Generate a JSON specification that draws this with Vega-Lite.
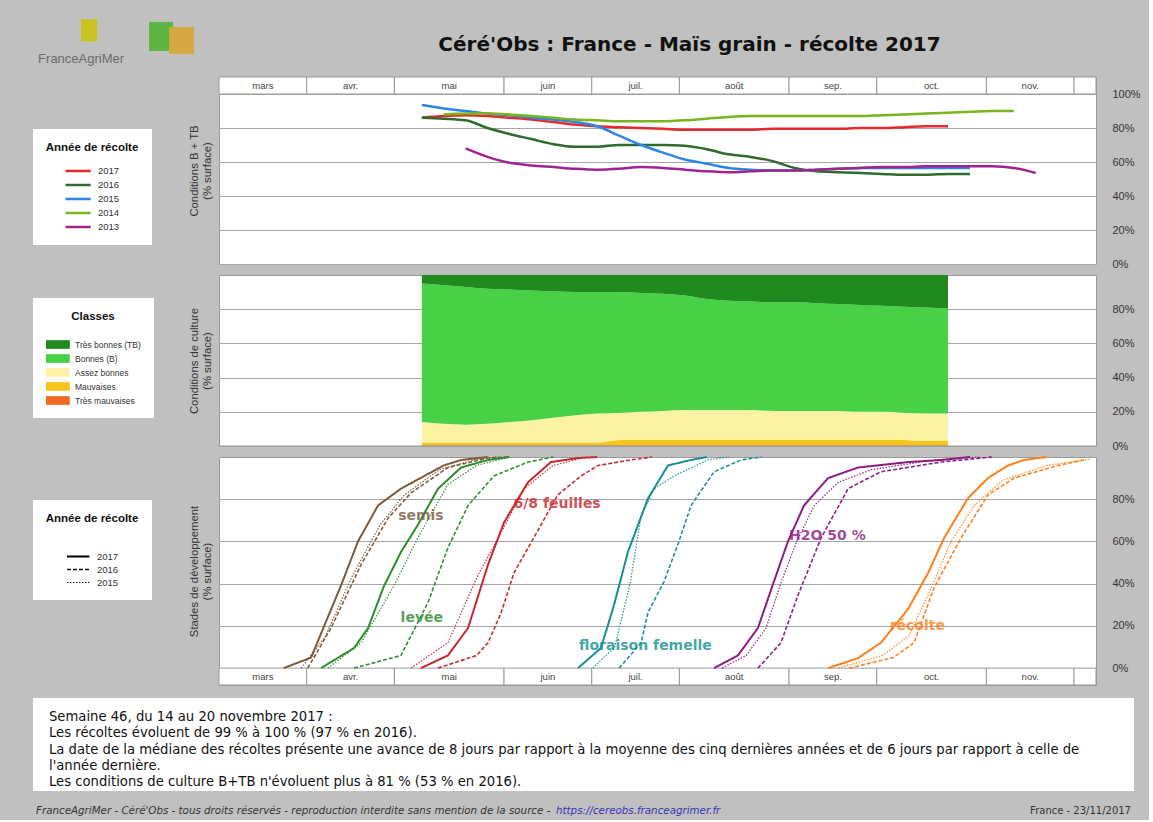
{
  "$schema": "https://vega.github.io/schema/vega-lite/v6.json",
  "background": "#c0c0c0",
  "padding": {"left": 32, "top": 18, "right": 8, "bottom": 4},
  "config": {
    "font": "Liberation Sans",
    "view": {"fill": "white", "stroke": "#9a9a9a", "strokeWidth": 1},
    "axis": {"domain": false, "ticks": false, "labelFontSize": 11, "labelColor": "#333", "titleFontSize": 11.3, "titleFontWeight": "normal", "titleColor": "#333", "gridColor": "#a6a6a6", "gridWidth": 1.2},
    "legend": {"orient": "none", "fillColor": "white", "padding": 13, "titleFontSize": 11.5, "titleFontWeight": "bold", "titleColor": "#111", "titleAnchor": "middle", "titleAlign": "center", "labelFontSize": 9.5, "labelColor": "#333"}
  },
  "datasets": {
    "mois": [
      {"mois": "mars", "debut": 8.75, "fin": 12.75},
      {"mois": "avr.", "debut": 12.75, "fin": 16.75},
      {"mois": "mai", "debut": 16.75, "fin": 21.75},
      {"mois": "juin", "debut": 21.75, "fin": 25.75},
      {"mois": "juil.", "debut": 25.75, "fin": 29.75},
      {"mois": "août", "debut": 29.75, "fin": 34.75},
      {"mois": "sep.", "debut": 34.75, "fin": 38.75},
      {"mois": "oct.", "debut": 38.75, "fin": 43.75},
      {"mois": "nov.", "debut": 43.75, "fin": 47.75},
      {"mois": "", "debut": 47.75, "fin": 48.75}
    ],
    "bt": [
      {"semaine": 18, "2017": 86, "2016": 86, "2015": 93.5, "2014": null, "2013": null},
      {"semaine": 19, "2017": 87, "2016": 85.5, "2015": 91.5, "2014": 88, "2013": null},
      {"semaine": 20, "2017": 87.5, "2016": 84.5, "2015": 90, "2014": 88.5, "2013": 68},
      {"semaine": 21, "2017": 87, "2016": 80, "2015": 88.5, "2014": 88.5, "2013": 63},
      {"semaine": 22, "2017": 86, "2016": 76.5, "2015": 87.5, "2014": 88, "2013": 59.5},
      {"semaine": 23, "2017": 85, "2016": 73.5, "2015": 86, "2014": 87, "2013": 58},
      {"semaine": 24, "2017": 83.5, "2016": 70.5, "2015": 85, "2014": 86, "2013": 57},
      {"semaine": 25, "2017": 82, "2016": 69, "2015": 83.5, "2014": 85, "2013": 56},
      {"semaine": 26, "2017": 81, "2016": 69, "2015": 81, "2014": 84.5, "2013": 55.5},
      {"semaine": 27, "2017": 80.5, "2016": 70, "2015": 75.5, "2014": 84, "2013": 56},
      {"semaine": 28, "2017": 80, "2016": 70, "2015": 70, "2014": 84, "2013": 57},
      {"semaine": 29, "2017": 79.5, "2016": 70, "2015": 65.5, "2014": 84, "2013": 56.5},
      {"semaine": 30, "2017": 79, "2016": 69.5, "2015": 61.5, "2014": 84.5, "2013": 55.5},
      {"semaine": 31, "2017": 79, "2016": 67.5, "2015": 59, "2014": 85.5, "2013": 54.5},
      {"semaine": 32, "2017": 79, "2016": 64.5, "2015": 56.5, "2014": 86.5, "2013": 54},
      {"semaine": 33, "2017": 79, "2016": 63, "2015": 55.5, "2014": 87, "2013": 54.5},
      {"semaine": 34, "2017": 79.5, "2016": 60.5, "2015": 55, "2014": 87, "2013": 55},
      {"semaine": 35, "2017": 79.5, "2016": 56.5, "2015": 55, "2014": 87, "2013": 55},
      {"semaine": 36, "2017": 79.5, "2016": 54.5, "2015": 55.5, "2014": 87, "2013": 55.5},
      {"semaine": 37, "2017": 79.5, "2016": 54, "2015": 56, "2014": 87, "2013": 56},
      {"semaine": 38, "2017": 80, "2016": 53.5, "2015": 56.5, "2014": 87, "2013": 56.5},
      {"semaine": 39, "2017": 80, "2016": 53, "2015": 56.5, "2014": 87.5, "2013": 57},
      {"semaine": 40, "2017": 80.5, "2016": 52.5, "2015": 56.5, "2014": 88, "2013": 57},
      {"semaine": 41, "2017": 81, "2016": 52.5, "2015": 56.5, "2014": 88.5, "2013": 57.5},
      {"semaine": 42, "2017": 81, "2016": 53, "2015": 56.5, "2014": 89, "2013": 57.5},
      {"semaine": 43, "2017": null, "2016": 53, "2015": 56.5, "2014": 89.5, "2013": 57.5},
      {"semaine": 44, "2017": null, "2016": null, "2015": null, "2014": 90, "2013": 57.5},
      {"semaine": 45, "2017": null, "2016": null, "2015": null, "2014": 90, "2013": 56.5},
      {"semaine": 46, "2017": null, "2016": null, "2015": null, "2014": null, "2013": 53.5}
    ],
    "classes": [
      {"semaine": 18, "a_TM": 0.5, "b_M": 1.5, "c_AB": 12, "d_B": 81, "e_TB": 5},
      {"semaine": 19, "a_TM": 0.5, "b_M": 1.5, "c_AB": 11, "d_B": 81, "e_TB": 6},
      {"semaine": 20, "a_TM": 0.5, "b_M": 1.5, "c_AB": 10.5, "d_B": 80.5, "e_TB": 7},
      {"semaine": 21, "a_TM": 0.5, "b_M": 1.5, "c_AB": 11, "d_B": 79, "e_TB": 8},
      {"semaine": 22, "a_TM": 0.5, "b_M": 1.5, "c_AB": 12, "d_B": 77.5, "e_TB": 8.5},
      {"semaine": 23, "a_TM": 0.5, "b_M": 1.5, "c_AB": 13, "d_B": 76, "e_TB": 9},
      {"semaine": 24, "a_TM": 0.5, "b_M": 1.5, "c_AB": 14.5, "d_B": 74, "e_TB": 9.5},
      {"semaine": 25, "a_TM": 0.5, "b_M": 1.5, "c_AB": 16, "d_B": 72, "e_TB": 10},
      {"semaine": 26, "a_TM": 0.5, "b_M": 1.5, "c_AB": 17, "d_B": 71, "e_TB": 10},
      {"semaine": 27, "a_TM": 0.5, "b_M": 3, "c_AB": 16, "d_B": 70.5, "e_TB": 10},
      {"semaine": 28, "a_TM": 0.5, "b_M": 3, "c_AB": 16.5, "d_B": 69.5, "e_TB": 10.5},
      {"semaine": 29, "a_TM": 0.5, "b_M": 3, "c_AB": 17, "d_B": 68.5, "e_TB": 11},
      {"semaine": 30, "a_TM": 0.5, "b_M": 3, "c_AB": 17.5, "d_B": 67, "e_TB": 12},
      {"semaine": 31, "a_TM": 0.5, "b_M": 3, "c_AB": 17.5, "d_B": 65, "e_TB": 14},
      {"semaine": 32, "a_TM": 0.5, "b_M": 3, "c_AB": 17.5, "d_B": 64, "e_TB": 15},
      {"semaine": 33, "a_TM": 0.5, "b_M": 3, "c_AB": 17.5, "d_B": 63.5, "e_TB": 15.5},
      {"semaine": 34, "a_TM": 0.5, "b_M": 3, "c_AB": 17, "d_B": 63.5, "e_TB": 16},
      {"semaine": 35, "a_TM": 0.5, "b_M": 3, "c_AB": 17, "d_B": 63.5, "e_TB": 16},
      {"semaine": 36, "a_TM": 0.5, "b_M": 3, "c_AB": 17, "d_B": 63, "e_TB": 16.5},
      {"semaine": 37, "a_TM": 0.5, "b_M": 3, "c_AB": 17, "d_B": 62.5, "e_TB": 17},
      {"semaine": 38, "a_TM": 0.5, "b_M": 3, "c_AB": 16.5, "d_B": 62.5, "e_TB": 17.5},
      {"semaine": 39, "a_TM": 0.5, "b_M": 3, "c_AB": 16.5, "d_B": 62, "e_TB": 18},
      {"semaine": 40, "a_TM": 0.5, "b_M": 3, "c_AB": 16, "d_B": 62, "e_TB": 18.5},
      {"semaine": 41, "a_TM": 0.5, "b_M": 2.5, "c_AB": 16, "d_B": 62, "e_TB": 19},
      {"semaine": 42, "a_TM": 0.5, "b_M": 2.5, "c_AB": 16, "d_B": 61.5, "e_TB": 19.5}
    ],
    "stades": [
      {"stade": "semis", "annee": "2017", "semaine": 11.7, "pct": 0},
      {"stade": "semis", "annee": "2017", "semaine": 12.95, "pct": 5},
      {"stade": "semis", "annee": "2017", "semaine": 14.31, "pct": 39},
      {"stade": "semis", "annee": "2017", "semaine": 15.09, "pct": 60},
      {"stade": "semis", "annee": "2017", "semaine": 16.0, "pct": 77},
      {"stade": "semis", "annee": "2017", "semaine": 17.05, "pct": 85},
      {"stade": "semis", "annee": "2017", "semaine": 19.0, "pct": 96},
      {"stade": "semis", "annee": "2017", "semaine": 19.8, "pct": 98.6},
      {"stade": "semis", "annee": "2017", "semaine": 21.0, "pct": 100},
      {"stade": "semis", "annee": "2016", "semaine": 12.8, "pct": 0},
      {"stade": "semis", "annee": "2016", "semaine": 13.86, "pct": 19},
      {"stade": "semis", "annee": "2016", "semaine": 15.23, "pct": 49},
      {"stade": "semis", "annee": "2016", "semaine": 16.46, "pct": 71},
      {"stade": "semis", "annee": "2016", "semaine": 17.51, "pct": 83},
      {"stade": "semis", "annee": "2016", "semaine": 19.19, "pct": 95},
      {"stade": "semis", "annee": "2016", "semaine": 21.0, "pct": 99.5},
      {"stade": "semis", "annee": "2016", "semaine": 22.0, "pct": 100},
      {"stade": "semis", "annee": "2015", "semaine": 12.5, "pct": 0},
      {"stade": "semis", "annee": "2015", "semaine": 13.6, "pct": 15},
      {"stade": "semis", "annee": "2015", "semaine": 14.8, "pct": 43},
      {"stade": "semis", "annee": "2015", "semaine": 16.1, "pct": 68},
      {"stade": "semis", "annee": "2015", "semaine": 17.2, "pct": 82},
      {"stade": "semis", "annee": "2015", "semaine": 18.8, "pct": 94},
      {"stade": "semis", "annee": "2015", "semaine": 20.5, "pct": 99},
      {"stade": "semis", "annee": "2015", "semaine": 21.5, "pct": 100},
      {"stade": "levée", "annee": "2017", "semaine": 13.4, "pct": 0},
      {"stade": "levée", "annee": "2017", "semaine": 14.91, "pct": 9.5},
      {"stade": "levée", "annee": "2017", "semaine": 15.55, "pct": 19},
      {"stade": "levée", "annee": "2017", "semaine": 16.28, "pct": 39},
      {"stade": "levée", "annee": "2017", "semaine": 17.05, "pct": 55},
      {"stade": "levée", "annee": "2017", "semaine": 17.83, "pct": 68},
      {"stade": "levée", "annee": "2017", "semaine": 18.74, "pct": 85},
      {"stade": "levée", "annee": "2017", "semaine": 19.79, "pct": 95},
      {"stade": "levée", "annee": "2017", "semaine": 21.02, "pct": 98.6},
      {"stade": "levée", "annee": "2017", "semaine": 22.0, "pct": 100},
      {"stade": "levée", "annee": "2016", "semaine": 14.91, "pct": 0},
      {"stade": "levée", "annee": "2016", "semaine": 17.05, "pct": 6},
      {"stade": "levée", "annee": "2016", "semaine": 18.28, "pct": 31},
      {"stade": "levée", "annee": "2016", "semaine": 19.19, "pct": 57},
      {"stade": "levée", "annee": "2016", "semaine": 20.11, "pct": 77},
      {"stade": "levée", "annee": "2016", "semaine": 21.29, "pct": 91},
      {"stade": "levée", "annee": "2016", "semaine": 22.84, "pct": 97.6},
      {"stade": "levée", "annee": "2016", "semaine": 24.0, "pct": 100},
      {"stade": "levée", "annee": "2015", "semaine": 13.72, "pct": 0},
      {"stade": "levée", "annee": "2015", "semaine": 15.23, "pct": 12},
      {"stade": "levée", "annee": "2015", "semaine": 16.73, "pct": 39},
      {"stade": "levée", "annee": "2015", "semaine": 17.83, "pct": 62},
      {"stade": "levée", "annee": "2015", "semaine": 19.19, "pct": 87},
      {"stade": "levée", "annee": "2015", "semaine": 20.5, "pct": 96},
      {"stade": "levée", "annee": "2015", "semaine": 22.0, "pct": 100},
      {"stade": "6/8 feuilles", "annee": "2017", "semaine": 17.96, "pct": 0},
      {"stade": "6/8 feuilles", "annee": "2017", "semaine": 19.19, "pct": 6},
      {"stade": "6/8 feuilles", "annee": "2017", "semaine": 20.11, "pct": 19},
      {"stade": "6/8 feuilles", "annee": "2017", "semaine": 21.02, "pct": 49},
      {"stade": "6/8 feuilles", "annee": "2017", "semaine": 21.75, "pct": 69},
      {"stade": "6/8 feuilles", "annee": "2017", "semaine": 22.84, "pct": 88},
      {"stade": "6/8 feuilles", "annee": "2017", "semaine": 23.89, "pct": 97.6},
      {"stade": "6/8 feuilles", "annee": "2017", "semaine": 25.12, "pct": 99.5},
      {"stade": "6/8 feuilles", "annee": "2017", "semaine": 26.0, "pct": 100},
      {"stade": "6/8 feuilles", "annee": "2016", "semaine": 18.74, "pct": 0},
      {"stade": "6/8 feuilles", "annee": "2016", "semaine": 20.5, "pct": 6},
      {"stade": "6/8 feuilles", "annee": "2016", "semaine": 21.02, "pct": 12},
      {"stade": "6/8 feuilles", "annee": "2016", "semaine": 21.61, "pct": 26},
      {"stade": "6/8 feuilles", "annee": "2016", "semaine": 22.2, "pct": 45},
      {"stade": "6/8 feuilles", "annee": "2016", "semaine": 23.12, "pct": 62},
      {"stade": "6/8 feuilles", "annee": "2016", "semaine": 24.2, "pct": 82},
      {"stade": "6/8 feuilles", "annee": "2016", "semaine": 25.26, "pct": 91},
      {"stade": "6/8 feuilles", "annee": "2016", "semaine": 26.04, "pct": 96},
      {"stade": "6/8 feuilles", "annee": "2016", "semaine": 27.54, "pct": 98.6},
      {"stade": "6/8 feuilles", "annee": "2016", "semaine": 28.5, "pct": 100},
      {"stade": "6/8 feuilles", "annee": "2015", "semaine": 17.51, "pct": 0},
      {"stade": "6/8 feuilles", "annee": "2015", "semaine": 19.19, "pct": 12},
      {"stade": "6/8 feuilles", "annee": "2015", "semaine": 20.56, "pct": 44},
      {"stade": "6/8 feuilles", "annee": "2015", "semaine": 21.61, "pct": 64},
      {"stade": "6/8 feuilles", "annee": "2015", "semaine": 22.66, "pct": 85},
      {"stade": "6/8 feuilles", "annee": "2015", "semaine": 24.0, "pct": 96},
      {"stade": "6/8 feuilles", "annee": "2015", "semaine": 25.5, "pct": 100},
      {"stade": "floraison femelle", "annee": "2017", "semaine": 25.12, "pct": 0},
      {"stade": "floraison femelle", "annee": "2017", "semaine": 26.17, "pct": 9.5},
      {"stade": "floraison femelle", "annee": "2017", "semaine": 26.77, "pct": 30},
      {"stade": "floraison femelle", "annee": "2017", "semaine": 27.4, "pct": 55},
      {"stade": "floraison femelle", "annee": "2017", "semaine": 28.32, "pct": 80.5},
      {"stade": "floraison femelle", "annee": "2017", "semaine": 29.23, "pct": 96},
      {"stade": "floraison femelle", "annee": "2017", "semaine": 30.28, "pct": 98.6},
      {"stade": "floraison femelle", "annee": "2017", "semaine": 31.0, "pct": 100},
      {"stade": "floraison femelle", "annee": "2016", "semaine": 27.0, "pct": 0},
      {"stade": "floraison femelle", "annee": "2016", "semaine": 28.0, "pct": 12},
      {"stade": "floraison femelle", "annee": "2016", "semaine": 28.32, "pct": 26.5},
      {"stade": "floraison femelle", "annee": "2016", "semaine": 29.05, "pct": 41},
      {"stade": "floraison femelle", "annee": "2016", "semaine": 29.73, "pct": 60},
      {"stade": "floraison femelle", "annee": "2016", "semaine": 30.28, "pct": 77},
      {"stade": "floraison femelle", "annee": "2016", "semaine": 31.33, "pct": 93},
      {"stade": "floraison femelle", "annee": "2016", "semaine": 32.56, "pct": 98.6},
      {"stade": "floraison femelle", "annee": "2016", "semaine": 33.5, "pct": 100},
      {"stade": "floraison femelle", "annee": "2015", "semaine": 25.8, "pct": 0},
      {"stade": "floraison femelle", "annee": "2015", "semaine": 26.8, "pct": 10},
      {"stade": "floraison femelle", "annee": "2015", "semaine": 27.5, "pct": 40},
      {"stade": "floraison femelle", "annee": "2015", "semaine": 28.0, "pct": 72},
      {"stade": "floraison femelle", "annee": "2015", "semaine": 28.6, "pct": 85},
      {"stade": "floraison femelle", "annee": "2015", "semaine": 29.5, "pct": 91},
      {"stade": "floraison femelle", "annee": "2015", "semaine": 31.05, "pct": 98.6},
      {"stade": "floraison femelle", "annee": "2015", "semaine": 32.0, "pct": 100},
      {"stade": "H2O 50 %", "annee": "2017", "semaine": 31.33, "pct": 0},
      {"stade": "H2O 50 %", "annee": "2017", "semaine": 32.42, "pct": 6},
      {"stade": "H2O 50 %", "annee": "2017", "semaine": 33.33, "pct": 19},
      {"stade": "H2O 50 %", "annee": "2017", "semaine": 34.06, "pct": 41},
      {"stade": "H2O 50 %", "annee": "2017", "semaine": 34.7, "pct": 60},
      {"stade": "H2O 50 %", "annee": "2017", "semaine": 35.43, "pct": 77},
      {"stade": "H2O 50 %", "annee": "2017", "semaine": 36.53, "pct": 90},
      {"stade": "H2O 50 %", "annee": "2017", "semaine": 37.89, "pct": 95},
      {"stade": "H2O 50 %", "annee": "2017", "semaine": 40.18, "pct": 97.6},
      {"stade": "H2O 50 %", "annee": "2017", "semaine": 41.68, "pct": 98.6},
      {"stade": "H2O 50 %", "annee": "2017", "semaine": 43.0, "pct": 100},
      {"stade": "H2O 50 %", "annee": "2016", "semaine": 33.33, "pct": 0},
      {"stade": "H2O 50 %", "annee": "2016", "semaine": 34.38, "pct": 12},
      {"stade": "H2O 50 %", "annee": "2016", "semaine": 35.16, "pct": 34.6},
      {"stade": "H2O 50 %", "annee": "2016", "semaine": 36.21, "pct": 61.6},
      {"stade": "H2O 50 %", "annee": "2016", "semaine": 37.44, "pct": 85},
      {"stade": "H2O 50 %", "annee": "2016", "semaine": 38.94, "pct": 93},
      {"stade": "H2O 50 %", "annee": "2016", "semaine": 41.68, "pct": 97.6},
      {"stade": "H2O 50 %", "annee": "2016", "semaine": 44.0, "pct": 100},
      {"stade": "H2O 50 %", "annee": "2015", "semaine": 31.7, "pct": 0},
      {"stade": "H2O 50 %", "annee": "2015", "semaine": 32.8, "pct": 6},
      {"stade": "H2O 50 %", "annee": "2015", "semaine": 33.7, "pct": 19},
      {"stade": "H2O 50 %", "annee": "2015", "semaine": 34.4, "pct": 41},
      {"stade": "H2O 50 %", "annee": "2015", "semaine": 35.1, "pct": 60},
      {"stade": "H2O 50 %", "annee": "2015", "semaine": 35.9, "pct": 77},
      {"stade": "H2O 50 %", "annee": "2015", "semaine": 37.0, "pct": 88},
      {"stade": "H2O 50 %", "annee": "2015", "semaine": 38.5, "pct": 94},
      {"stade": "H2O 50 %", "annee": "2015", "semaine": 41.0, "pct": 98},
      {"stade": "H2O 50 %", "annee": "2015", "semaine": 43.5, "pct": 100},
      {"stade": "récolte", "annee": "2017", "semaine": 36.53, "pct": 0},
      {"stade": "récolte", "annee": "2017", "semaine": 37.89, "pct": 4.7},
      {"stade": "récolte", "annee": "2017", "semaine": 38.94, "pct": 12},
      {"stade": "récolte", "annee": "2017", "semaine": 40.18, "pct": 28},
      {"stade": "récolte", "annee": "2017", "semaine": 41.09, "pct": 45},
      {"stade": "récolte", "annee": "2017", "semaine": 41.82, "pct": 61.6},
      {"stade": "récolte", "annee": "2017", "semaine": 42.91, "pct": 80.5},
      {"stade": "récolte", "annee": "2017", "semaine": 43.82, "pct": 90},
      {"stade": "récolte", "annee": "2017", "semaine": 44.74, "pct": 96},
      {"stade": "récolte", "annee": "2017", "semaine": 45.47, "pct": 98.6},
      {"stade": "récolte", "annee": "2017", "semaine": 46.5, "pct": 100},
      {"stade": "récolte", "annee": "2016", "semaine": 37.5, "pct": 0},
      {"stade": "récolte", "annee": "2016", "semaine": 39.5, "pct": 5},
      {"stade": "récolte", "annee": "2016", "semaine": 40.45, "pct": 12},
      {"stade": "récolte", "annee": "2016", "semaine": 41.36, "pct": 38},
      {"stade": "récolte", "annee": "2016", "semaine": 42.59, "pct": 61.6},
      {"stade": "récolte", "annee": "2016", "semaine": 43.82, "pct": 82},
      {"stade": "récolte", "annee": "2016", "semaine": 45.01, "pct": 90},
      {"stade": "récolte", "annee": "2016", "semaine": 47.02, "pct": 96},
      {"stade": "récolte", "annee": "2016", "semaine": 48.2, "pct": 98.6},
      {"stade": "récolte", "annee": "2015", "semaine": 37.0, "pct": 0},
      {"stade": "récolte", "annee": "2015", "semaine": 39.0, "pct": 6},
      {"stade": "récolte", "annee": "2015", "semaine": 40.2, "pct": 15},
      {"stade": "récolte", "annee": "2015", "semaine": 41.09, "pct": 34.6},
      {"stade": "récolte", "annee": "2015", "semaine": 42.14, "pct": 60},
      {"stade": "récolte", "annee": "2015", "semaine": 43.19, "pct": 77},
      {"stade": "récolte", "annee": "2015", "semaine": 44.5, "pct": 89},
      {"stade": "récolte", "annee": "2015", "semaine": 46.5, "pct": 96},
      {"stade": "récolte", "annee": "2015", "semaine": 48.5, "pct": 99}
    ],
    "etiquettes": [
      {"stade": "semis", "semaine": 17.96, "pct": 72},
      {"stade": "levée", "semaine": 18.0, "pct": 23.7},
      {"stade": "6/8 feuilles", "semaine": 24.17, "pct": 77.7},
      {"stade": "floraison femelle", "semaine": 28.2, "pct": 10.4},
      {"stade": "H2O 50 %", "semaine": 36.5, "pct": 62.5},
      {"stade": "récolte", "semaine": 40.6, "pct": 20}
    ],
    "texte": [
      {"ligne": 1, "texte": "Semaine 46, du 14 au 20 novembre 2017 :"},
      {"ligne": 2, "texte": "Les récoltes évoluent de 99 % à 100 % (97 % en 2016)."},
      {"ligne": 3, "texte": "La date de la médiane des récoltes présente une avance de 8 jours par rapport à la moyenne des cinq dernières années et de 6 jours par rapport à celle de"},
      {"ligne": 4, "texte": "l'année dernière."},
      {"ligne": 5, "texte": "Les conditions de culture B+TB n'évoluent plus à 81 % (53 % en 2016)."}
    ]
  },
  "spacing": 12,
  "resolve": {"scale": {"x": "independent", "y": "independent"}},
  "vconcat": [
    {
      "bounds": "flush",
      "spacing": 11,
      "resolve": {"scale": {"x": "independent", "y": "independent", "color": "independent", "fill": "independent", "strokeDash": "independent", "strokeWidth": "independent", "opacity": "independent"}},
      "vconcat": [
        {
          "width": 877,
          "height": 187,
          "title": {"text": "Céré'Obs : France - Maïs grain - récolte 2017", "font": "DejaVu Sans", "fontSize": 20, "fontWeight": "bold", "color": "#111", "anchor": "middle", "frame": "group", "dx": 32, "offset": -36},
          "resolve": {"axis": {"y": "independent"}},
          "layer": [
            {
              "data": {"name": "mois"},
              "mark": {"type": "rect", "fill": "white", "stroke": "#9a9a9a", "strokeWidth": 1},
              "encoding": {
                "x": {"field": "debut", "type": "quantitative", "scale": {"domain": [8.75, 48.75], "nice": false, "zero": false}, "axis": null},
                "x2": {"field": "fin"},
                "y": {"datum": 100, "type": "quantitative", "scale": {"domain": [0, 110], "nice": false, "zero": false}, "axis": {"orient": "left", "title": ["Conditions B + TB", "(% surface)"], "labels": false, "grid": false, "titlePadding": 6}},
                "y2": {"datum": 110}
              }
            },
            {
              "data": {"name": "mois"},
              "transform": [{"calculate": "(datum.debut + datum.fin) / 2", "as": "milieu"}],
              "mark": {"type": "text", "fontSize": 9.5, "color": "#444", "baseline": "middle"},
              "encoding": {
                "x": {"field": "milieu", "type": "quantitative", "axis": null},
                "y": {"datum": 105, "type": "quantitative", "axis": null},
                "text": {"field": "mois"}
              }
            },
            {
              "data": {"name": "bt"},
              "transform": [{"fold": ["2017", "2016", "2015", "2014", "2013"], "as": ["annee", "pct"]}],
              "mark": {"type": "line", "strokeWidth": 2.5, "interpolate": "monotone"},
              "encoding": {
                "x": {"field": "semaine", "type": "quantitative", "axis": null},
                "y": {"field": "pct", "type": "quantitative", "axis": {"orient": "right", "values": [0, 20, 40, 60, 80, 100], "labelExpr": "datum.value + '%'", "grid": true, "title": null, "labelPadding": 16}},
                "color": {"field": "annee", "type": "nominal", "scale": {"domain": ["2017", "2016", "2015", "2014", "2013"], "range": ["#e8282c", "#2f6a2f", "#2c86e6", "#7ab51d", "#a1248e"]},
                  "legend": {"title": "Année de récolte", "orient": "none", "legendX": -186, "legendY": 52, "symbolType": "M-1,0H2.6", "symbolSize": 196, "symbolStrokeWidth": 2.5, "labelOffset": 17, "titlePadding": 9, "rowPadding": 0}}
              }
            },
            {
              "data": {"values": [{}]},
              "mark": {"type": "text", "fontSize": 13, "color": "#6a6a6a"},
              "encoding": {
                "x": {"datum": 2.46, "type": "quantitative", "axis": null},
                "y": {"datum": 120.6, "type": "quantitative", "axis": null},
                "text": {"value": "FranceAgriMer"}
              }
            },
            {
              "data": {"values": [{}]},
              "mark": {"type": "rect", "color": "#c9c21e"},
              "encoding": {
                "x": {"datum": 2.46, "type": "quantitative", "axis": null},
                "x2": {"datum": 3.19},
                "y": {"datum": 131, "type": "quantitative", "axis": null},
                "y2": {"datum": 144}
              }
            },
            {
              "data": {"values": [{}]},
              "mark": {"type": "rect", "color": "#5db544"},
              "encoding": {
                "x": {"datum": 5.56, "type": "quantitative", "axis": null},
                "x2": {"datum": 6.65},
                "y": {"datum": 125.3, "type": "quantitative", "axis": null},
                "y2": {"datum": 142.4}
              }
            },
            {
              "data": {"values": [{}]},
              "mark": {"type": "rect", "color": "#d5a840"},
              "encoding": {
                "x": {"datum": 6.47, "type": "quantitative", "axis": null},
                "x2": {"datum": 7.61},
                "y": {"datum": 123.5, "type": "quantitative", "axis": null},
                "y2": {"datum": 139.4}
              }
            }
          ]
        },
        {
          "width": 877,
          "height": 171,
          "resolve": {"axis": {"y": "independent"}},
          "layer": [
            {
              "data": {"name": "classes"},
              "transform": [{"fold": ["a_TM", "b_M", "c_AB", "d_B", "e_TB"], "as": ["classe", "pct"]}],
              "mark": {"type": "area", "interpolate": "monotone"},
              "encoding": {
                "x": {"field": "semaine", "type": "quantitative", "scale": {"domain": [8.75, 48.75], "nice": false, "zero": false}, "axis": null},
                "y": {"field": "pct", "type": "quantitative", "stack": "zero", "scale": {"domain": [0, 100], "nice": false}, "axis": {"orient": "right", "values": [0, 20, 40, 60, 80], "labelExpr": "datum.value + '%'", "grid": true, "title": null, "labelPadding": 16}},
                "fill": {"field": "classe", "type": "nominal", "scale": {"domain": ["e_TB", "d_B", "c_AB", "b_M", "a_TM"], "range": ["#1f8b1f", "#47d147", "#fbf3a2", "#f7c51a", "#f26a21"]},
                  "legend": {"title": "Classes", "orient": "none", "legendX": -186, "legendY": 23, "symbolType": "M-1,-0.62H2.4V0.62H-1Z", "symbolSize": 196, "symbolStrokeWidth": 0, "labelFontSize": 8.5, "labelExpr": "{'e_TB':'Très bonnes (TB)','d_B':'Bonnes (B)','c_AB':'Assez bonnes','b_M':'Mauvaises','a_TM':'Très mauvaises'}[datum.value]", "labelOffset": 15, "titlePadding": 15, "rowPadding": 2}},
                "order": {"field": "classe", "type": "ordinal", "sort": "ascending"}
              }
            },
            {
              "data": {"values": [{}]},
              "mark": {"type": "rule", "color": "#9a9a9a", "strokeWidth": 1},
              "encoding": {
                "y": {"datum": 0, "type": "quantitative", "axis": {"orient": "left", "title": ["Conditions de culture", "(% surface)"], "labels": false, "grid": false, "titlePadding": 6}}
              }
            }
          ]
        },
        {
          "width": 877,
          "height": 228,
          "resolve": {"axis": {"y": "independent"}},
          "layer": [
            {
              "data": {"name": "mois"},
              "mark": {"type": "rect", "fill": "white", "stroke": "#9a9a9a", "strokeWidth": 1},
              "encoding": {
                "x": {"field": "debut", "type": "quantitative", "scale": {"domain": [8.75, 48.75], "nice": false, "zero": false}, "axis": null},
                "x2": {"field": "fin"},
                "y": {"datum": -8, "type": "quantitative", "scale": {"domain": [-8, 100], "nice": false, "zero": false}, "axis": {"orient": "left", "title": ["Stades de développement", "(% surface)"], "labels": false, "grid": false, "titlePadding": 6}},
                "y2": {"datum": 0}
              }
            },
            {
              "data": {"name": "mois"},
              "transform": [{"calculate": "(datum.debut + datum.fin) / 2", "as": "milieu"}],
              "mark": {"type": "text", "fontSize": 9.5, "color": "#444", "baseline": "middle"},
              "encoding": {
                "x": {"field": "milieu", "type": "quantitative", "axis": null},
                "y": {"datum": -4, "type": "quantitative", "axis": null},
                "text": {"field": "mois"}
              }
            },
            {
              "data": {"name": "stades"},
              "mark": {"type": "line", "interpolate": "linear"},
              "encoding": {
                "x": {"field": "semaine", "type": "quantitative", "axis": null},
                "y": {"field": "pct", "type": "quantitative", "axis": {"orient": "right", "values": [0, 20, 40, 60, 80], "labelExpr": "datum.value + '%'", "grid": true, "title": null, "labelPadding": 16}},
                "color": {"field": "stade", "type": "nominal", "scale": {"domain": ["semis", "levée", "6/8 feuilles", "floraison femelle", "H2O 50 %", "récolte"], "range": ["#7d5a3c", "#2e8b2e", "#c8282d", "#17908f", "#8e1b80", "#ff7f1a"]}, "legend": null},
                "strokeDash": {"field": "annee", "type": "nominal", "scale": {"domain": ["2017", "2016", "2015"], "range": [[1, 0], [4, 2], [1.5, 1.5]]},
                  "legend": {"title": "Année de récolte", "orient": "none", "legendX": -186, "legendY": 43, "symbolType": "M-1,0H2.2", "symbolStrokeColor": "black", "symbolStrokeWidth": 1.2, "symbolSize": 196, "titlePadding": 24, "rowPadding": 0, "labelOffset": 15,
                    "encode": {"symbols": {"update": {"opacity": {"signal": "datum.value === '2015' ? 0.45 : 1"}}}}}},
                "strokeWidth": {"field": "annee", "type": "ordinal", "scale": {"domain": ["2017", "2016", "2015"], "range": [2, 1.2, 1]}, "legend": null},
                "opacity": {"field": "annee", "type": "ordinal", "scale": {"domain": ["2017", "2016", "2015"], "range": [1, 0.95, 0.6]}, "legend": null}
              }
            },
            {
              "data": {"name": "etiquettes"},
              "mark": {"type": "text", "font": "DejaVu Sans", "fontSize": 14, "fontWeight": "bold", "opacity": 0.8, "baseline": "middle"},
              "encoding": {
                "x": {"field": "semaine", "type": "quantitative", "axis": null},
                "y": {"field": "pct", "type": "quantitative", "axis": null},
                "text": {"field": "stade"},
                "color": {"field": "stade", "type": "nominal", "legend": null}
              }
            }
          ]
        }
      ]
    },
    {
      "width": 915,
      "height": 93,
      "view": {"fill": null, "stroke": null},
      "layer": [
        {
          "data": {"values": [{}]},
          "mark": {"type": "rect", "color": "white"},
          "encoding": {
            "x": {"datum": -20.33, "type": "quantitative", "scale": {"domain": [0, 100], "nice": false, "zero": false}, "axis": null},
            "x2": {"datum": 100},
            "y": {"datum": -0.17, "type": "quantitative", "scale": {"domain": [-0.17, 5.55], "reverse": true, "nice": false, "zero": false}, "axis": null},
            "y2": {"datum": 5.55}
          }
        },
        {
          "data": {"name": "texte"},
          "mark": {"type": "text", "align": "left", "baseline": "middle", "font": "DejaVu Sans", "fontSize": 13.2, "color": "#111"},
          "encoding": {
            "x": {"datum": -18.58, "type": "quantitative", "axis": null},
            "y": {"field": "ligne", "type": "quantitative", "axis": null},
            "text": {"field": "texte"}
          }
        },
        {
          "data": {"values": [{"texte": "FranceAgriMer - Céré'Obs - tous droits réservés - reproduction interdite sans mention de la source - "}]},
          "mark": {"type": "text", "align": "left", "baseline": "middle", "font": "DejaVu Sans", "fontSize": 10.3, "fontStyle": "italic", "color": "#333"},
          "encoding": {
            "x": {"datum": -20.0, "type": "quantitative", "axis": null},
            "y": {"datum": 6.75, "type": "quantitative", "axis": null},
            "text": {"field": "texte"}
          }
        },
        {
          "data": {"values": [{"texte": "https://cereobs.franceagrimer.fr"}]},
          "mark": {"type": "text", "align": "left", "baseline": "middle", "font": "DejaVu Sans", "fontSize": 10.3, "fontStyle": "italic", "color": "#3535b5"},
          "encoding": {
            "x": {"datum": 36.83, "type": "quantitative", "axis": null},
            "y": {"datum": 6.75, "type": "quantitative", "axis": null},
            "text": {"field": "texte"}
          }
        },
        {
          "data": {"values": [{"texte": "France - 23/11/2017"}]},
          "mark": {"type": "text", "align": "right", "baseline": "middle", "font": "DejaVu Sans", "fontSize": 10, "color": "#333"},
          "encoding": {
            "x": {"datum": 99.67, "type": "quantitative", "axis": null},
            "y": {"datum": 6.75, "type": "quantitative", "axis": null},
            "text": {"field": "texte"}
          }
        }
      ]
    }
  ]
}
